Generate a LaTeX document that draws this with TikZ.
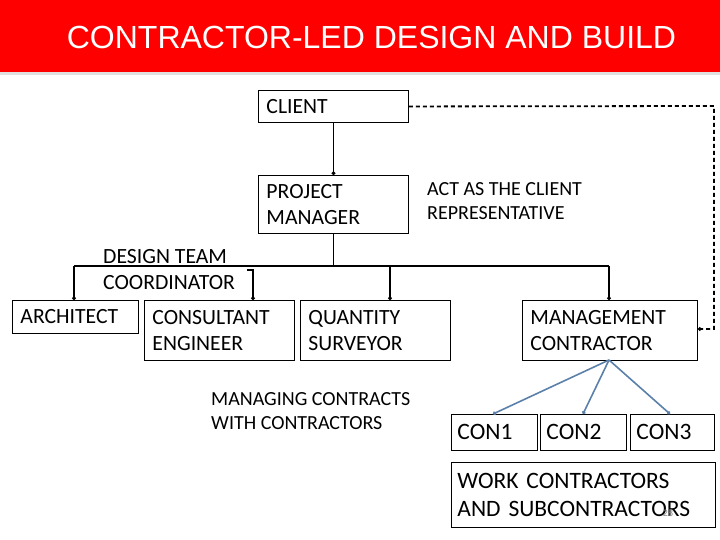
\documentclass[tikz,border=0pt]{standalone}
\usepackage{fontspec}
\setmainfont{Carlito}
\newfontfamily\arialf{Liberation Sans}
\usetikzlibrary{arrows.meta,calc}
\definecolor{hdrred}{RGB}{255,0,0}
\definecolor{conblue}{RGB}{91,128,170}
\tikzset{
  box/.style={draw=black, line width=0.9pt, anchor=north west, align=left, inner xsep=8pt, inner ysep=0pt,
    font=\fontsize{21.7}{26}\selectfont},
  bigbox/.style={box, inner xsep=6pt, font=\fontsize{23.5}{28}\selectfont},
  plain/.style={anchor=west, align=left, inner sep=0pt, font=\fontsize{21.7}{26}\selectfont},
  small/.style={anchor=west, align=left, inner sep=0pt, font=\fontsize{20}{24}\selectfont},
  conn/.style={line width=1.8pt, -{Circle[length=3.5pt]}},
  bus/.style={line width=1.8pt},
  dashconn/.style={line width=1.8pt, dash pattern=on 4pt off 3pt, -{Circle[length=3.5pt]}},
  blueconn/.style={line width=1.6pt, draw=conblue, -{Circle[length=3.5pt]}}
}
\begin{document}
\begin{tikzpicture}[x=1pt,y=-1pt]
\useasboundingbox (0,0) rectangle (720,540);
\fill[white] (0,0) rectangle (720,540);
% header
\fill[black!12] (0,72) rectangle (720,75);
\fill[hdrred] (0,0) rectangle (720,72);
\node[text=white, font=\arialf\fontsize{32}{36}\selectfont, inner sep=0pt] (title) at (371.5,37) {CONTRACTOR-LED DESIGN AND BUILD};
% boxes
\node[box, minimum width=150pt, minimum height=32pt, text width=134pt] (client) at (258,90) {CLIENT};
\node[box, minimum width=150pt, minimum height=58pt, text width=134pt] (pm) at (258,175) {PROJECT\\MANAGER};
\node[box, minimum width=126pt, minimum height=33pt, text width=110pt] (arch) at (12,300) {ARCHITECT};
\node[box, minimum width=150pt, minimum height=60pt, text width=134pt] (cons) at (144,300) {CONSULTANT\\ENGINEER};
\node[box, minimum width=150pt, minimum height=60pt, text width=134pt] (qs) at (300,300) {QUANTITY\\SURVEYOR};
\node[box, minimum width=175pt, minimum height=60pt, text width=159pt] (mc) at (522,300) {MANAGEMENT\\CONTRACTOR};
\node[bigbox, minimum width=86pt, minimum height=36pt, text width=74pt] (c1) at (451,414) {CON1};
\node[bigbox, minimum width=86pt, minimum height=36pt, text width=74pt] (c2) at (540,414) {CON2};
\node[bigbox, minimum width=84pt, minimum height=36pt, text width=72pt] (c3) at (630,414) {CON3};
\node[bigbox, minimum width=264pt, minimum height=65pt, text width=252pt] (work) at (451,462) {WORK CONTRACTORS\\AND SUBCONTRACTORS};
% free texts
\node[small] (act) at (427,201) {ACT AS THE CLIENT\\REPRESENTATIVE};
\node[plain] (dtc) at (103,270) {DESIGN TEAM\\COORDINATOR};
\node[small] (mcc) at (211,411) {MANAGING CONTRACTS\\WITH CONTRACTORS};
\node[text=black!45, font=\fontsize{10}{12}\selectfont, inner sep=0pt] (pg) at (668,513) {28};
% coordinates
\coordinate (busL) at (74,266);
\coordinate (busR) at (609,266);
\coordinate (hook) at (247,270);
\coordinate (dashTR) at (714,106);
\coordinate (dashBR) at (714,329);
% connectors
\draw[conn] (client.south) -- (pm.north);
\draw[bus] (pm.south) -- (pm.south |- busL);
\draw[bus] (busL) -- (busR);
\draw[conn] (busL) -- (busL |- arch.north);
\draw[conn] (hook) -- (253,270) -- (253,300);
\draw[conn] (390,266) -- (390,300);
\draw[conn] (busR) -- (busR |- mc.north);
\draw[dashconn] (client.east) -- (dashTR) -- (dashBR) -- (dashBR -| mc.east);
\draw[blueconn] (609,360) -- (493,414);
\draw[blueconn] (609,360) -- (583,414);
\draw[blueconn] (609,360) -- (670,414);
\end{tikzpicture}
\end{document}
